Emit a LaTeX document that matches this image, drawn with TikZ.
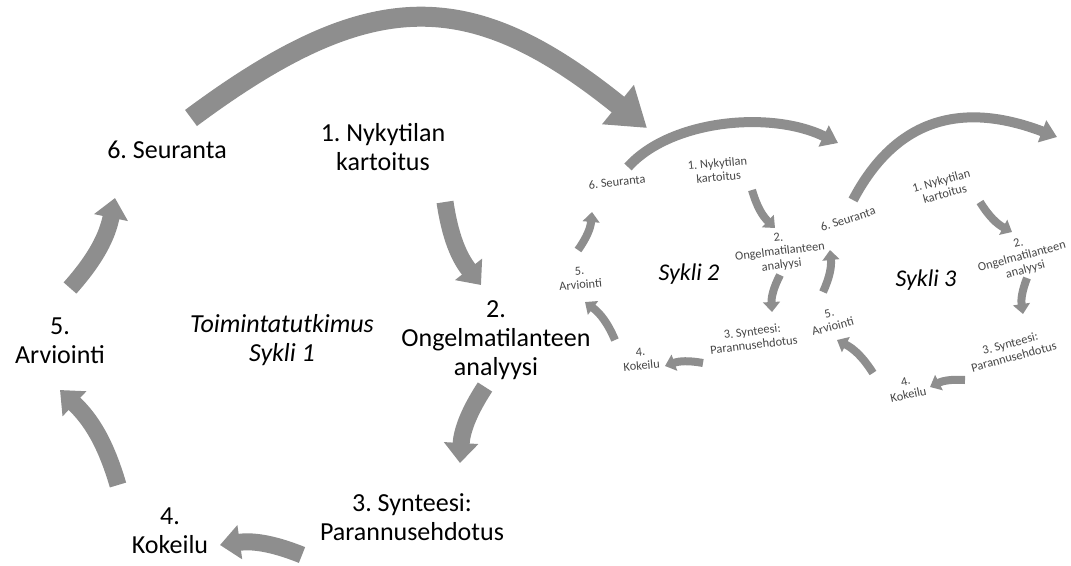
\documentclass[tikz,border=0pt]{standalone}
\usepackage{fontspec}
\setmainfont{Carlito}
\usetikzlibrary{arrows.meta}
\definecolor{arrgray}{RGB}{142,142,142}
\definecolor{smalltext}{RGB}{70,70,70}
\frenchspacing
\begin{document}
\begin{tikzpicture}[x=0.75pt,y=-0.75pt,
  bigtxt/.style={font=\fontsize{19.5}{21.5}\selectfont, align=center, inner sep=0pt},
  bigital/.style={font=\fontsize{19.5}{22}\selectfont\itshape, align=center, inner sep=0pt},
  smtxt/.style={font=\fontsize{9.3}{10.3}\selectfont, align=center, inner sep=0pt, text=smalltext},
  smital/.style={font=\fontsize{18}{20}\selectfont\itshape, align=center, inner sep=0pt},
  arrM/.style={draw=arrgray, line width=12.75pt, -{Triangle[width=25pt,length=15pt]}},
  arrS/.style={draw=arrgray, line width=6pt, -{Triangle[width=12.5pt,length=7.5pt]}},
  arrB/.style={draw=arrgray, line width=15pt, -{Triangle[width=36pt,length=28pt]}},
  arrBs/.style={draw=arrgray, line width=7.5pt, -{Triangle[width=17pt,length=12pt]}}
]
\useasboundingbox (0,0) rectangle (1071,565);

% ---------------- Cycle 1 ----------------
\node[bigtxt] (m6) at (167,150) {6. Seuranta};
\node[bigtxt] (m1) at (383,147) {1. Nykytilan\\kartoitus};
\node[bigtxt] (m2) at (496,340) {2.\\Ongelmatilanteen\\analyysi};
\node[bigtxt] (m3) at (412,517) {3. Synteesi:\\Parannusehdotus};
\node[bigtxt] (m4) at (170,531) {4.\\Kokeilu};
\node[bigtxt] (m5) at (60,341) {5.\\Arviointi};
\node[bigital] (m0) at (282,340) {Toimintatutkimus\\Sykli 1};

\coordinate (a12s) at (445,202); \coordinate (a12e) at (481,285);
\coordinate (a23s) at (485,387); \coordinate (a23e) at (460,463);
\coordinate (a34s) at (302,555); \coordinate (a34e) at (220,545);
\coordinate (a45s) at (118,485); \coordinate (a45e) at (60,390);
\coordinate (a56s) at (70,288);  \coordinate (a56e) at (115,198);
\coordinate (bms) at (191,118);  \coordinate (bme) at (647,128);

\draw[arrM] (a12s) to[bend right=15] (a12e);
\draw[arrM] (a23s) to[bend right=15] (a23e);
\draw[arrM] (a34s) to[bend right=15] (a34e);
\draw[arrM] (a45s) to[bend right=15] (a45e);
\draw[arrM] (a56s) to[bend right=15] (a56e);
\draw[arrB] (bms) .. controls (370,-15) and (470,-15) .. (bme);

% ---------------- Cycle 2 ----------------
\node[smtxt, rotate=6] (c6) at (617,182) {6. Seuranta};
\node[smtxt, rotate=5] (c1) at (718,170) {1. Nykytilan\\kartoitus};
\node[smtxt, rotate=7] (c2) at (780,252) {2.\\Ongelmatilanteen\\analyysi};
\node[smtxt, rotate=7] (c3) at (753,338) {3. Synteesi:\\Parannusehdotus};
\node[smtxt, rotate=5] (c4) at (641,359) {4.\\Kokeilu};
\node[smtxt, rotate=5] (c5) at (580,278) {5.\\Arviointi};
\node[smital] (c0) at (689,274) {Sykli 2};

\coordinate (b12s) at (752,190); \coordinate (b12e) at (775,228);
\coordinate (b23s) at (780,275); \coordinate (b23e) at (772,312);
\coordinate (b34s) at (703,363); \coordinate (b34e) at (665,366);
\coordinate (b45s) at (615,340); \coordinate (b45e) at (585,302);
\coordinate (b56s) at (578,250); \coordinate (b56e) at (592,212);
\coordinate (bcs) at (628,167);  \coordinate (bce) at (838,143);

\draw[arrS] (b12s) to[bend right=15] (b12e);
\draw[arrS] (b23s) to[bend right=15] (b23e);
\draw[arrS] (b34s) to[bend right=15] (b34e);
\draw[arrS] (b45s) to[bend right=15] (b45e);
\draw[arrS] (b56s) to[bend right=15] (b56e);
\draw[arrBs] (bcs) .. controls (670,120) and (770,110) .. (bce);

% ---------------- Cycle 3 ----------------
\node[smtxt, rotate=18] (d6) at (848,219) {6. Seuranta};
\node[smtxt, rotate=15] (d1) at (943,187) {1. Nykytilan\\kartoitus};
\node[smtxt, rotate=15] (d2) at (1022,257) {2.\\Ongelmatilanteen\\analyysi};
\node[smtxt, rotate=15] (d3) at (1012,350) {3. Synteesi:\\Parannusehdotus};
\node[smtxt, rotate=12] (d4) at (907,388) {4.\\Kokeilu};
\node[smtxt, rotate=15] (d5) at (831,320) {5.\\Arviointi};
\node[smital] (d0) at (926,280) {Sykli 3};

\coordinate (e12s) at (980,202);  \coordinate (e12e) at (1012,232);
\coordinate (e23s) at (1027,278); \coordinate (e23e) at (1023,314);
\coordinate (e34s) at (965,380);  \coordinate (e34e) at (930,387);
\coordinate (e45s) at (873,373);  \coordinate (e45e) at (837,340);
\coordinate (e56s) at (823,292);  \coordinate (e56e) at (830,250);
\coordinate (ecs) at (853,200);   \coordinate (ece) at (1057,137);

\draw[arrS] (e12s) to[bend right=15] (e12e);
\draw[arrS] (e23s) to[bend right=15] (e23e);
\draw[arrS] (e34s) to[bend right=15] (e34e);
\draw[arrS] (e45s) to[bend right=15] (e45e);
\draw[arrS] (e56s) to[bend right=15] (e56e);
\draw[arrBs] (ecs) .. controls (895,120) and (960,100) .. (ece);
\end{tikzpicture}
\end{document}
